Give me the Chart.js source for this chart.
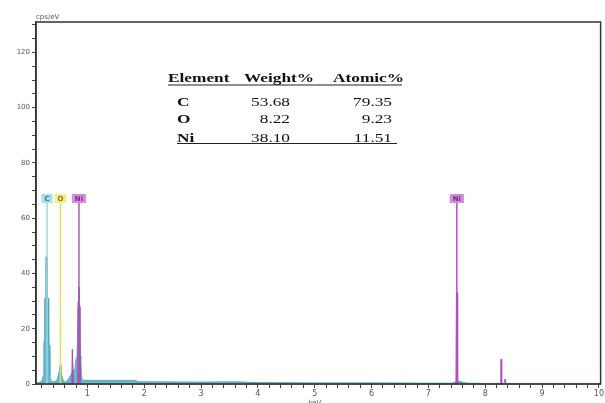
<!DOCTYPE html>
<html>
<head>
<meta charset="utf-8">
<script src="https://cdn.jsdelivr.net/npm/chart.js@4/dist/chart.umd.min.js"></script>
<style>
  body { margin: 0; background: #fff; }
  #wrap { width: 605px; height: 403px; }
</style>
</head>
<body>
<div id="wrap"><canvas id="spectrum" width="605" height="403"></canvas></div>
<script>
// spectrum (keV, cps/eV)
const specKeV = [0.096, 0.15, 0.2, 0.225, 0.235, 0.245, 0.25, 0.265, 0.27, 0.29, 0.295, 0.315, 0.32, 0.33, 0.34, 0.36,
  0.42, 0.47, 0.5, 0.515, 0.525, 0.535, 0.55, 0.575, 0.6, 0.62, 0.66, 0.7, 0.73, 0.76, 0.78, 0.8, 0.82, 0.835, 0.85,
  0.86, 0.875, 0.885, 0.895, 0.91, 0.95, 1.85, 1.9, 3.0, 3.6, 4.0, 5.0, 6.0, 7.0, 7.42, 7.48, 7.55, 7.62, 7.7, 8.0, 10.03];
const specCps = [0.3, 0.5, 1, 3, 15, 16, 31, 31, 46, 46, 31, 31, 14, 14, 3, 1,
  0.8, 1.5, 4, 6, 7, 5, 3, 1.2, 0.8, 0.8, 1.5, 3, 4, 5, 5, 9, 10, 30, 35,
  30, 10, 9, 3, 1.5, 1.3, 1.3, 0.8, 0.7, 0.8, 0.5, 0.4, 0.4, 0.3, 0.3, 0.8, 1.0, 0.5, 0.3, 0.2, 0.2];

// parts of the spectrum coloured as Ni
const niKeV = [0.725, 0.735, 0.745, 0.755, null, 0.83, 0.84, 0.85, 0.86, 0.87, null,
  7.485, 7.493, 7.507, 7.515, null, 8.273, 8.278, 8.287, 8.292, null, 8.345, 8.35, 8.355];
const niCps = [0, 12.6, 12.6, 0, null, 0, 28, 35, 28, 0, null,
  0, 33, 33, 0, null, 0, 9, 9, 0, null, 0, 1.8, 0];

// element marker lines
const elementNames = ['C', 'O', 'Ni', 'Ni'];
const elementKeV = [0.29, 0.525, 0.852, 7.5];
const markerTop = 65.5;

// quantification table
const tableHeaders = ['Element', 'Weight%', 'Atomic%'];
const tableElements = ['C', 'O', 'Ni'];
const weightPct = ['53.68', '8.22', '38.10'];
const atomicPct = ['79.35', '9.23', '11.51'];

// axes
const xMajor = [1, 2, 3, 4, 5, 6, 7, 8, 9, 10];
const yMajor = [0, 20, 40, 60, 80, 100, 120];

const markerColors = { C: '#9ed6e2', O: '#e4df5e', Ni: '#b552bd' };
const boxColors = { C: ['#a9dfea', '#2e7d8c'], O: ['#f1ee8c', '#857b1c'], Ni: ['#d68ddc', '#7a2a80'] };

function toPoints(xs, ys) {
  return xs.map((x, i) => (x === null ? { x: NaN, y: null } : { x: x, y: ys[i] }));
}

const datasets = [];
elementNames.forEach((name, i) => {
  datasets.push({
    data: [{ x: elementKeV[i], y: 0 }, { x: elementKeV[i], y: markerTop }],
    borderColor: markerColors[name],
    borderWidth: 1.5,
    pointRadius: 0,
    fill: false,
    order: 0
  });
});
datasets.push({
  data: toPoints(niKeV, niCps),
  borderColor: '#a64cb4',
  backgroundColor: 'rgba(165, 75, 185, 0.75)',
  borderWidth: 1,
  pointRadius: 0,
  fill: 'origin',
  spanGaps: false,
  order: 1
});
datasets.push({
  data: toPoints(specKeV, specCps),
  borderColor: '#4ea9c1',
  backgroundColor: 'rgba(80, 172, 198, 0.85)',
  borderWidth: 1,
  pointRadius: 0,
  fill: 'origin',
  order: 2
});

const extras = {
  id: 'extras',
  afterDatasetsDraw(chart) {
    const ctx = chart.ctx;
    const xs = chart.scales.x, ys = chart.scales.y;
    ctx.save();
    ctx.font = 'bold 7px "DejaVu Sans"';
    ctx.textAlign = 'center';
    ctx.textBaseline = 'middle';
    elementNames.forEach((name, i) => {
      const px = xs.getPixelForValue(elementKeV[i]);
      const py = ys.getPixelForValue(markerTop);
      const w = ctx.measureText(name).width + 6;
      ctx.fillStyle = boxColors[name][0];
      ctx.fillRect(px - w / 2, py - 9, w, 9);
      ctx.fillStyle = boxColors[name][1];
      ctx.fillText(name, px, py - 4.3);
    });
    ctx.restore();
  },
  afterDraw(chart) {
    const ctx = chart.ctx;
    const a = chart.chartArea;
    ctx.save();
    ctx.strokeStyle = '#333';
    ctx.lineWidth = 1.5;
    ctx.strokeRect(a.left, a.top, a.right - a.left, a.bottom - a.top);

    ctx.fillStyle = '#555';
    ctx.font = '7px "DejaVu Sans"';
    ctx.textAlign = 'left';
    ctx.textBaseline = 'alphabetic';
    ctx.fillText('cps/eV', a.left, a.top - 3);
    ctx.textAlign = 'center';
    ctx.fillText('keV', chart.scales.x.getPixelForValue(5), 405);

    // table, stretched sideways like the source
    const sx = 1.33;
    ctx.scale(sx, 1);
    ctx.fillStyle = '#111';
    ctx.textAlign = 'left';
    ctx.font = 'bold 13px "Liberation Serif"';
    const hx = [168, 244, 333];
    tableHeaders.forEach((h, i) => ctx.fillText(h, hx[i] / sx, 82));
    const rowY = [106, 123, 141.5];
    tableElements.forEach((e, i) => ctx.fillText(e, 177 / sx, rowY[i]));
    ctx.font = '13px "Liberation Serif"';
    ctx.textAlign = 'right';
    weightPct.forEach((v, i) => ctx.fillText(v, 290 / sx, rowY[i]));
    atomicPct.forEach((v, i) => ctx.fillText(v, 392 / sx, rowY[i]));
    ctx.setTransform(1, 0, 0, 1, 0, 0);
    ctx.strokeStyle = '#222';
    ctx.lineWidth = 1;
    ctx.beginPath();
    ctx.moveTo(168, 85); ctx.lineTo(402, 85);
    ctx.moveTo(177, 143.5); ctx.lineTo(397, 143.5);
    ctx.stroke();
    ctx.restore();
  }
};

function minorTicks(lo, hi, step) {
  const t = [];
  for (let v = lo; v <= hi + 1e-9; v += step) t.push({ value: Math.round(v * 100) / 100 });
  return t;
}

new Chart(document.getElementById('spectrum'), {
  type: 'line',
  data: { datasets: datasets },
  plugins: [extras],
  options: {
    responsive: false,
    animation: false,
    events: [],
    layout: { padding: { top: 22, right: 2, left: 0, bottom: 0 } },
    plugins: { legend: { display: false }, tooltip: { enabled: false } },
    scales: {
      x: {
        type: 'linear',
        min: 0.096,
        max: 10.03,
        afterBuildTicks: s => { s.ticks = minorTicks(0.2, 10, 0.2); },
        afterFit: s => { s.height = 19; },
        border: { color: '#333', width: 1.5 },
        grid: { drawOnChartArea: false, tickLength: 4, tickColor: '#444' },
        ticks: {
          autoSkip: false,
          maxRotation: 0,
          padding: 1,
          color: '#555',
          font: { family: 'DejaVu Sans', size: 8 },
          callback: v => (xMajor.includes(v) ? String(v) : '')
        }
      },
      y: {
        min: 0,
        max: 131,
        afterBuildTicks: s => { s.ticks = minorTicks(0, 130, 5); },
        afterFit: s => { s.width = 36; },
        border: { color: '#333', width: 1.5 },
        grid: { drawOnChartArea: false, tickLength: 4, tickColor: '#444' },
        ticks: {
          autoSkip: false,
          padding: 2,
          color: '#555',
          font: { family: 'DejaVu Sans', size: 7 },
          callback: v => (yMajor.includes(v) ? String(v) : '')
        }
      }
    }
  }
});
</script>
</body>
</html>
